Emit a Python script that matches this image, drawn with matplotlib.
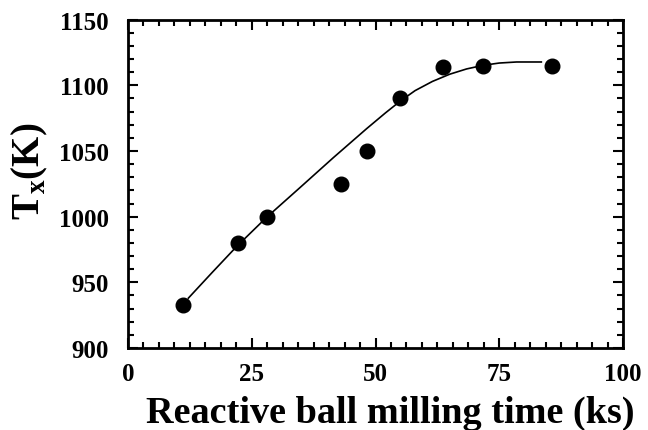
import matplotlib
matplotlib.use("Agg")
import matplotlib.pyplot as plt
from matplotlib.ticker import MultipleLocator

# Measured data
time_ks = [11.2, 22.2, 28.0, 43.0, 48.2, 54.9, 63.7, 71.8, 85.7]
tx_K = [933, 980, 1000, 1025, 1050, 1090, 1114, 1115, 1115]

# Fitted curve
fit_x = [12.2, 17.0, 22.0, 28.0, 34.7, 41.5, 48.2, 52.0, 55.0,
         58.0, 61.5, 65.0, 68.4, 71.8, 75.0, 78.5, 83.5]
fit_y = [938, 957.5, 977.5, 999.5, 1022, 1045, 1067, 1079, 1088,
         1096, 1103, 1108.5, 1112.5, 1115.3, 1117, 1117.8, 1117.8]

xticks = [0, 25, 50, 75, 100]
yticks = [900, 950, 1000, 1050, 1100, 1150]

plt.rcParams['font.family'] = ['Liberation Serif', 'DejaVu Serif']
plt.rcParams['font.weight'] = 'bold'
plt.rcParams['mathtext.fontset'] = 'custom'
plt.rcParams['mathtext.bf'] = 'Liberation Serif:bold'
plt.rcParams['mathtext.rm'] = 'Liberation Serif:bold'

fig = plt.figure(figsize=(6.48, 4.31), dpi=100)
ax = fig.add_axes([128/648, 1-349/431, (623-128)/648, (349-20.7)/431])

ax.plot(fit_x, fit_y, color='black', lw=1.2)
ax.plot(time_ks, tx_K, 'o', color='black', ms=10.5)

ax.set_xlim(0, 100)
ax.set_ylim(900, 1150)
ax.set_xticks(xticks)
ax.set_yticks(yticks)
ax.xaxis.set_minor_locator(MultipleLocator(3.125))
ax.yaxis.set_minor_locator(MultipleLocator(10))
ax.tick_params(which='both', direction='in', top=True, right=True, width=1.5)
ax.tick_params(which='major', length=7)
ax.tick_params(which='minor', length=4)
ax.tick_params(axis='y', which='major', pad=14)
ax.tick_params(axis='x', which='major', pad=10)
for lab in ax.get_xticklabels() + ax.get_yticklabels():
    lab.set_fontsize(18)
    lab.set_fontweight('bold')
for s in ax.spines.values():
    s.set_linewidth(2)

ax.set_xlabel('Reactive ball milling time (ks)', fontsize=27.5, fontweight='bold')
ax.xaxis.set_label_coords(0.53, -0.142)
ax.set_ylabel(r'T$_\mathbf{x}$(K)', fontsize=28, fontweight='bold')
ax.yaxis.set_label_coords(-0.158, 0.54)

fig.savefig('out.png', dpi=100)
